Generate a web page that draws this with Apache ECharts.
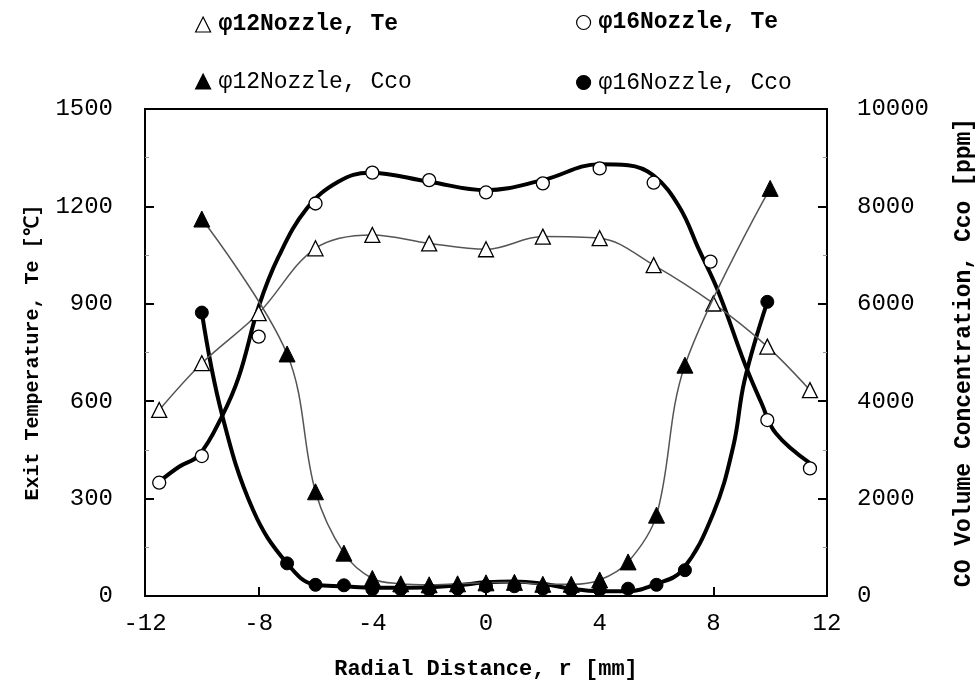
<!DOCTYPE html>
<html>
<head>
<meta charset="utf-8">
<script src="https://cdn.jsdelivr.net/npm/echarts@6/dist/echarts.min.js"></script>
<style>html,body{margin:0;padding:0;background:#fff;}#c{width:976px;height:686px;}</style>
</head>
<body>
<div id="c"></div>
<script>
// ---- data ----
const xTicks = [-12, -8, -4, 0, 4, 8, 12];
const teTicks = [0, 300, 600, 900, 1200, 1500];
const coTicks = [0, 2000, 4000, 6000, 8000, 10000];

// phi12 nozzle, exit temperature (open triangles)
const x12Te = [-11.5, -10, -8, -6, -4, -2, 0, 2, 4, 5.9, 8, 9.9, 11.4];
const te12 = [573, 717, 871, 1071, 1112, 1086, 1068, 1107, 1102, 1019, 901, 768, 634];

// phi16 nozzle, exit temperature (open circles)
const x16Te = [-11.5, -10, -8, -6, -4, -2, 0, 2, 4, 5.9, 7.9, 9.9, 11.4];
const te16 = [349, 431, 799, 1209, 1304, 1281, 1243, 1271, 1317, 1273, 1030, 542, 393];
// phi16 temperature fitted curve
const x16TeFit = [-11.5, -10.8, -10.1, -9.3, -8.7, -8, -7.3, -6.3, -5.2, -4.1, -2, 0, 2, 4, 5, 5.9, 6.8, 7.5, 8.2, 9.1, 9.7, 10.2, 11.4];
const te16Fit = [352, 398, 434, 552, 675, 891, 1045, 1194, 1276, 1304, 1276, 1250, 1281, 1330, 1327, 1295, 1199, 1066, 932, 717, 593, 501, 409];

// phi12 nozzle, CO concentration (filled triangles)
const x12Co = [-10, -7, -6, -5, -4, -3, -2, -1, 0, 1, 2, 3, 4, 5, 6, 7, 10];
const co12 = [7740, 4970, 2140, 880, 360, 250, 230, 250, 270, 280, 240, 240, 330, 700, 1660, 4740, 8370];

// phi16 nozzle, CO concentration (filled circles)
const x16Co = [-10, -7, -6, -5, -4, -3, -2, -1, 0, 1, 2, 3, 4, 5, 6, 7, 9.9];
const co16 = [5820, 670, 230, 220, 140, 140, 130, 150, 200, 200, 150, 130, 130, 150, 230, 530, 6040];
// phi16 CO fitted curve
const x16CoFit = [-10, -9.3, -8.2, -7, -6, -5, -4, -3, -2, -1, 0, 1, 2, 3, 4, 5, 6, 6.9, 8, 8.7, 9.1, 9.9];
const co16Fit = [5820, 3750, 1770, 670, 230, 200, 170, 170, 180, 220, 280, 300, 250, 150, 100, 100, 250, 530, 1700, 3070, 4430, 6040];

const names = ['φ12Nozzle, Te', 'φ16Nozzle, Te', 'φ12Nozzle, Cco', 'φ16Nozzle, Cco'];

function pairs(xs, ys) { return xs.map((x, i) => [x, ys[i]]); }

const FONT = 'Liberation Mono';
const chart = echarts.init(document.getElementById('c'), null, {renderer: 'canvas'});

function legendAt(left, top, name, icon, fill, bold, size) {
  return {
    left: left, top: top, orient: 'horizontal',
    itemWidth: size, itemHeight: size, itemGap: 0,
    selectedMode: false,
    data: [{name: name, icon: icon, itemStyle: {color: fill, borderColor: '#000', borderWidth: 1.2, opacity: 1}}],
    textStyle: {fontFamily: FONT, fontSize: 23, color: '#000', fontWeight: bold ? 'bold' : 'normal', padding: [0, 0, 0, 3]}
  };
}

const plain = v => String(v);

chart.setOption({
  animation: false,
  backgroundColor: '#fff',
  grid: {left: 145, right: 149, top: 109, bottom: 90, containLabel: false, outerBoundsMode: 'none',
    show: true, borderColor: '#000', borderWidth: 2, backgroundColor: 'transparent'},
  legend: [
    legendAt(190, 8, names[0], 'triangle', '#fff', true, 15),
    legendAt(571, 6, names[1], 'circle', '#fff', true, 14),
    legendAt(190, 65, names[2], 'triangle', '#000', false, 15),
    legendAt(571, 66, names[3], 'circle', '#000', false, 14)
  ],
  xAxis: {
    type: 'value', min: xTicks[0], max: xTicks[xTicks.length - 1], interval: 4,
    name: 'Radial Distance, r [mm]', nameLocation: 'middle', nameGap: 62,
    nameTextStyle: {fontFamily: FONT, fontSize: 22, fontWeight: 'bold', color: '#000'},
    axisLine: {lineStyle: {color: '#000', width: 2}},
    axisTick: {inside: true, length: 9, lineStyle: {color: '#000', width: 2}},
    axisLabel: {fontFamily: FONT, fontSize: 24, color: '#000', margin: 16, formatter: plain},
    splitLine: {show: false}
  },
  yAxis: [
    {
      type: 'value', min: teTicks[0], max: teTicks[teTicks.length - 1], interval: 300, position: 'left',
      name: 'Exit Temperature, Te [℃]', nameLocation: 'middle', nameGap: 102, nameRotate: 90,
      nameTextStyle: {fontFamily: FONT, fontSize: 20, fontWeight: 'bold', color: '#000'},
      axisLine: {show: true, onZero: false, lineStyle: {color: '#000', width: 2}},
      axisTick: {inside: true, length: 9, lineStyle: {color: '#000', width: 2}},
      minorTick: {show: true, splitNumber: 2, length: 4, lineStyle: {color: '#999'}},
      axisLabel: {fontFamily: FONT, fontSize: 24, color: '#000', margin: 32, formatter: plain},
      splitLine: {show: false}
    },
    {
      type: 'value', min: coTicks[0], max: coTicks[coTicks.length - 1], interval: 2000, position: 'right',
      name: 'CO Volume Concentration, Cco [ppm]', nameLocation: 'middle', nameGap: 126, nameRotate: 90,
      nameTextStyle: {fontFamily: FONT, fontSize: 23, fontWeight: 'bold', color: '#000'},
      axisLine: {show: true, onZero: false, lineStyle: {color: '#000', width: 2}},
      axisTick: {inside: true, length: 9, lineStyle: {color: '#000', width: 2}},
      minorTick: {show: true, splitNumber: 2, length: 4, lineStyle: {color: '#999'}},
      axisLabel: {fontFamily: FONT, fontSize: 24, color: '#000', margin: 30, formatter: plain},
      splitLine: {show: false}
    }
  ],
  series: [
    {
      name: 'φ16 Te fit', type: 'line', yAxisIndex: 0, smooth: 0.4, showSymbol: false, symbol: 'none',
      data: pairs(x16TeFit, te16Fit), lineStyle: {color: '#000', width: 4}, z: 3, silent: true
    },
    {
      name: 'φ16 Cco fit', type: 'line', yAxisIndex: 1, smooth: 0.4, showSymbol: false, symbol: 'none',
      data: pairs(x16CoFit, co16Fit), lineStyle: {color: '#000', width: 4}, z: 3, silent: true
    },
    {
      name: names[0], type: 'line', yAxisIndex: 0, smooth: 0.35,
      data: pairs(x12Te, te12), symbol: 'triangle', symbolSize: 15,
      lineStyle: {color: '#555', width: 1.5},
      itemStyle: {color: '#fff', borderColor: '#000', borderWidth: 1.3, opacity: 1}, z: 5
    },
    {
      name: names[1], type: 'scatter', yAxisIndex: 0,
      data: pairs(x16Te, te16), symbol: 'circle', symbolSize: 13,
      itemStyle: {color: '#fff', borderColor: '#000', borderWidth: 1.3, opacity: 1}, z: 5
    },
    {
      name: names[2], type: 'line', yAxisIndex: 1, smooth: 0.35,
      data: pairs(x12Co, co12), symbol: 'triangle', symbolSize: 16,
      lineStyle: {color: '#555', width: 1.5},
      itemStyle: {color: '#000', borderColor: '#000', borderWidth: 1, opacity: 1}, z: 6
    },
    {
      name: names[3], type: 'scatter', yAxisIndex: 1,
      data: pairs(x16Co, co16), symbol: 'circle', symbolSize: 13,
      itemStyle: {color: '#000', borderColor: '#000', borderWidth: 1, opacity: 1}, z: 6
    }
  ]
});
</script>
</body>
</html>
